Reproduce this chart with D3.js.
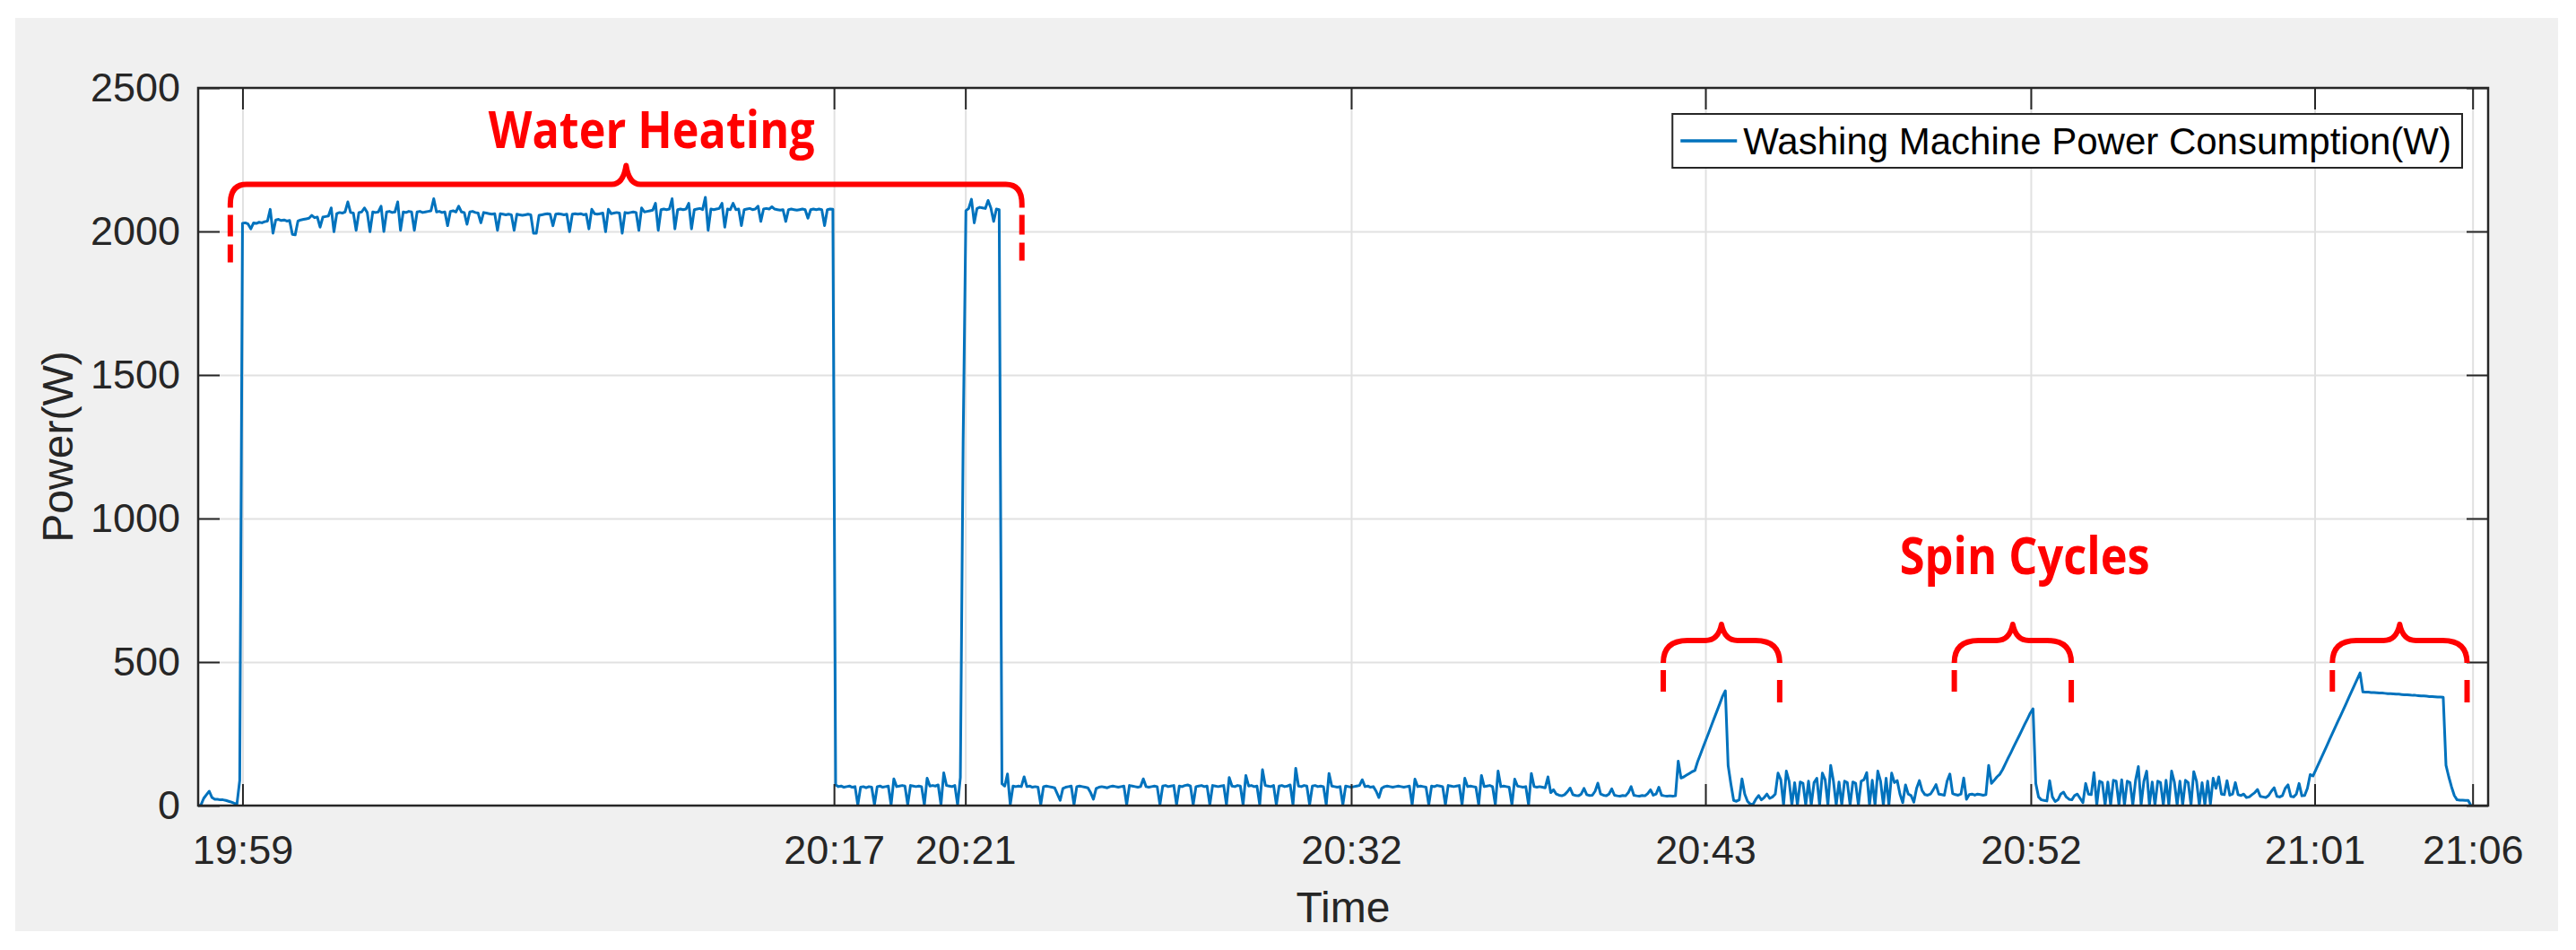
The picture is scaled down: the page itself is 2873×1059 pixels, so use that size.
<!DOCTYPE html>
<html>
<head>
<meta charset="utf-8">
<script src="https://cdn.jsdelivr.net/npm/d3@7"></script>
<style>
  body { margin: 0; background: #fff; }
  svg { display: block; font-family: "Liberation Sans", Arial, Helvetica, sans-serif; }
</style>
</head>
<body>
<svg id="chart"></svg>
<script>
// one reading every 5 s, starting at the left edge of the plot
const startTime = "19:57:40";
const stepSeconds = 5;
const timeDomain = ["19:57:40", "21:06:31"];

const idleStart = [0, 2, 25, 38, 50, 28, 22, 22, 20, 20, 18, 15, 12, 8, 6, 88];

const heatingPhase1 = [
  2028, 2030, 2026, 2009, 2030, 2028, 2032, 2030, 2034, 2036,
  2077, 1994, 2040, 2042, 2038, 2040, 2036, 2038, 1990, 1988,
  2036, 2040, 2042, 2044, 2046, 2056, 2048, 2050, 2015, 2050,
  2052, 2054, 2082, 1999, 2062, 2066, 2064, 2068, 2103, 2066,
  2064, 2004, 2066, 2068, 2082, 2066, 1999, 2068, 2066, 2068,
  2088, 2000, 2068, 2070, 2066, 2068, 2103, 2004, 2068, 2066,
  2070, 2068, 2004, 2068, 2070, 2066, 2068, 2070, 2072, 2114,
  2068, 2070, 2066, 2068, 2020, 2070, 2072, 2068, 2088, 2068,
  2066, 2025, 2068, 2070, 2066, 2064, 2030, 2066, 2064, 2062,
  2060, 2062, 2004, 2062, 2060, 2058, 2060, 2058, 2004, 2060,
  2058, 2056, 2058, 2060, 2058, 1994, 1994, 2056, 2058, 2060,
  2062, 2060, 2020, 2060, 2062, 2060, 2058, 2060, 1999, 2060,
  2062, 2060, 2062, 2058, 2060, 2009, 2077, 2062, 2060, 2062,
  2064, 1999, 2077, 2062, 2064, 2066, 2064, 1994, 2066, 2064,
  2066, 2068, 2066, 2004, 2082, 2068, 2070, 2072, 2074, 2098,
  2004, 2076, 2078, 2076, 2078, 2114, 2009, 2076, 2078, 2076,
  2078, 2098, 2009, 2076, 2078, 2080, 2076, 2119, 2004, 2078,
  2076, 2078, 2080, 2098, 2015, 2078, 2076, 2098, 2076, 2078,
  2020, 2076, 2078, 2080, 2076, 2078, 2088, 2035, 2078, 2080,
  2078, 2086, 2078, 2076, 2074, 2076, 2035, 2076, 2078, 2076,
  2074, 2076, 2078, 2076, 2046, 2076, 2078, 2076, 2078, 2076,
  2020, 2076, 2078, 2077
];

const pausePhase = [
  72, 66, 68, 64, 66, 68, 64, 66, 2, 64,
  66, 62, 66, 64, 3, 66, 68, 64, 66, 68,
  2, 93, 66, 68, 70, 68, 3, 70, 68, 66,
  68, 66, 2, 95, 68, 70, 68, 72, 3, 114,
  70, 68, 66, 70, 2, 98
];

const heatingPhase2 = [1270, 2072, 2080, 2112, 2030, 2080, 2084, 2082, 2080, 2108, 2082, 2035, 2078, 2076];

const washPhase = [
  76, 68, 110, 3, 68, 66, 68, 66, 100, 66,
  68, 64, 66, 64, 3, 66, 68, 66, 64, 62,
  40, 18, 60, 64, 66, 68, 3, 66, 68, 66,
  64, 62, 45, 22, 60, 64, 66, 64, 62, 66,
  68, 66, 64, 66, 68, 3, 70, 68, 66, 64,
  66, 93, 66, 64, 66, 68, 66, 3, 68, 70,
  66, 68, 70, 3, 68, 66, 70, 72, 68, 3,
  66, 68, 70, 66, 68, 3, 70, 68, 66, 68,
  70, 3, 98, 68, 66, 70, 68, 3, 105, 68,
  70, 66, 68, 3, 125, 70, 68, 66, 70, 3,
  68, 70, 66, 68, 72, 3, 130, 68, 66, 70,
  68, 3, 68, 70, 66, 68, 66, 3, 112, 68,
  66, 64, 66, 3, 68, 66, 64, 66, 68, 70,
  90, 66, 68, 64, 66, 50, 28, 60, 66, 68,
  66, 64, 66, 68, 66, 64, 66, 68, 3, 92,
  66, 68, 66, 64, 3, 68, 66, 70, 68, 66,
  3, 70, 68, 66, 68, 70, 3, 95, 66, 68,
  66, 64, 3, 105, 66, 68, 70, 66, 3, 120,
  66, 68, 66, 64, 3, 92, 68, 66, 64, 66,
  3, 112, 66, 64, 66, 64, 62, 100, 45, 55,
  40, 36, 34, 38, 48, 61, 38, 35, 34, 40,
  60, 38, 35, 36, 50, 78, 40, 36, 34, 40,
  58, 36, 34, 33, 35, 34, 45, 66, 36, 34,
  33, 35, 34, 42, 55, 36, 40, 64, 36, 34,
  33, 34, 33, 34
];

const spinPhase1 = [155, 96, 100, 106, 112, 118, 122, 153, 178, 204, 229, 254, 280, 305, 330, 355, 381, 400, 140, 75, 18, 15];

const rinsePhase1 = [
  20, 93, 40, 15, 5, 5, 22, 35, 20, 28,
  40, 25, 30, 40, 113, 90, 2, 120, 85, 2,
  80, 2, 82, 78, 2, 85, 2, 80, 95, 2,
  113, 90, 2, 140, 85, 2, 82, 2, 85, 80,
  2, 82, 78, 2, 85, 90, 115, 2, 88, 2,
  120, 85, 2, 95, 2, 113, 80, 87, 40, 10,
  72, 40, 35, 12, 60, 87, 52, 38, 36, 40,
  55, 73, 40, 38, 36, 85, 110, 42, 38, 36,
  40, 96, 22, 38, 40, 36, 40, 38, 36, 38
];

const spinPhase2 = [140, 77, 88, 100, 109, 125, 145, 165, 184, 204, 224, 243, 263, 283, 302, 322, 337, 77, 30, 20, 18, 16];

const rinsePhase2 = [
  87, 30, 14, 20, 40, 47, 30, 22, 20, 35,
  40, 25, 10, 77, 40, 38, 115, 2, 85, 80,
  2, 82, 2, 88, 85, 2, 90, 2, 85, 80,
  2, 88, 136, 2, 85, 120, 2, 82, 2, 85,
  80, 2, 88, 2, 120, 82, 2, 85, 2, 88,
  80, 2, 118, 85, 2, 80, 2, 85, 5, 95,
  60, 100, 40, 38, 87, 36, 40, 80, 38, 35,
  40, 28, 30, 38, 45, 56, 32, 30, 28, 35,
  50, 62, 32, 30, 35, 60, 72, 32, 30, 40,
  77, 34, 35, 60
];

const spinPhase3 = [
  108, 103, 124, 145, 166, 187, 208, 230, 251, 272,
  293, 314, 335, 356, 378, 399, 420, 441, 462, 396,
  395, 395, 394, 394, 393, 392, 392, 391, 390, 390,
  389, 388, 388, 387, 386, 386, 385, 384, 384, 383,
  382, 382, 381, 380, 380, 379, 378, 378, 377, 140,
  100, 65, 35, 20, 19, 19, 18, 18, 0
];

const tickTimes = ["19:59:00", "20:16:47", "20:20:44", "20:32:20", "20:42:59", "20:52:46", "21:01:18", "21:06:03"];
const tickLabels = ["19:59", "20:17", "20:21", "20:32", "20:43", "20:52", "21:01", "21:06"];
const powerTicks = [0, 500, 1000, 1500, 2000, 2500];
const seriesName = "Washing Machine Power Consumption(W)";

// red hand-drawn annotations
const braceFrom = ["19:58:38", "20:41:43", "20:50:28", "21:01:50"];
const braceTo = ["20:22:26", "20:45:13", "20:53:59", "21:05:53"];
const braceLevel = [2164, 575, 575, 575];
const noteText = ["Water Heating", "Spin Cycles"];
const noteTime = ["20:11:18", "20:52:35"];
const noteLevel = [2290, 806];

const parseTime = d3.timeParse("%H:%M:%S");


class PowerChart {

  constructor(_config, _data) {
    this.config = {
      parentElement: _config.parentElement,
      containerWidth: _config.containerWidth || 2873,
      containerHeight: _config.containerHeight || 1059,
      margin: { top: 98, bottom: 161, right: 98, left: 221 }
    }
    this.data = _data;
    this.initVis();
  }

  initVis() {
    let vis = this;
    vis.width = vis.config.containerWidth - vis.config.margin.left - vis.config.margin.right;
    vis.height = vis.config.containerHeight - vis.config.margin.top - vis.config.margin.bottom;

    vis.svg = d3.select(vis.config.parentElement)
      .attr('width', vis.config.containerWidth)
      .attr('height', vis.config.containerHeight);

    vis.svg.append('rect')
      .attr('width', vis.config.containerWidth)
      .attr('height', vis.config.containerHeight)
      .attr('fill', '#ffffff');

    // matlab figure background
    vis.svg.append('rect')
      .attr('x', 17).attr('y', 20)
      .attr('width', vis.config.containerWidth - 37)
      .attr('height', vis.config.containerHeight - 41)
      .attr('fill', '#f0f0f0');

    vis.chart = vis.svg.append('g')
      .attr('transform', `translate(${vis.config.margin.left},${vis.config.margin.top})`);

    vis.chart.append('rect')
      .attr('width', vis.width)
      .attr('height', vis.height)
      .attr('fill', '#ffffff');

    vis.xScale = d3.scaleTime()
      .domain(timeDomain.map(parseTime))
      .range([0, vis.width]);

    vis.yScale = d3.scaleLinear()
      .domain([0, 2500])
      .range([vis.height, 0]);

    vis.tickDates = tickTimes.map(parseTime);

    vis.updateVis();
  }

  updateVis() {
    let vis = this;
    const ink = '#262626';

    // grid
    const xGrid = vis.chart.append('g')
      .call(d3.axisBottom(vis.xScale).tickValues(vis.tickDates).tickSize(vis.height).tickFormat(''));
    const yGrid = vis.chart.append('g')
      .call(d3.axisLeft(vis.yScale).tickValues(powerTicks.slice(1, -1)).tickSize(-vis.width).tickFormat(''));
    [xGrid, yGrid].forEach(g => {
      g.select('.domain').remove();
      g.selectAll('line').attr('stroke', '#e1e1e1').attr('stroke-width', 2);
    });

    vis.line = d3.line()
      .x(d => vis.xScale(d.time))
      .y(d => vis.yScale(d.watts));

    vis.chart.append('path')
      .datum(vis.data)
      .attr('fill', 'none')
      .attr('stroke', '#0072bd')
      .attr('stroke-width', 3)
      .attr('stroke-linejoin', 'round')
      .attr('d', vis.line);

    // axes with inward ticks on all four sides
    const axes = [
      { axis: d3.axisBottom(vis.xScale).tickValues(vis.tickDates).tickFormat((d, i) => tickLabels[i]).tickPadding(33), at: [0, vis.height] },
      { axis: d3.axisTop(vis.xScale).tickValues(vis.tickDates).tickFormat(''), at: [0, 0] },
      { axis: d3.axisLeft(vis.yScale).tickValues(powerTicks).tickFormat(d3.format('d')).tickPadding(20), at: [0, 0] },
      { axis: d3.axisRight(vis.yScale).tickValues(powerTicks).tickFormat(''), at: [vis.width, 0] }
    ];
    axes.forEach(a => {
      const g = vis.chart.append('g')
        .attr('transform', `translate(${a.at[0]},${a.at[1]})`)
        .attr('color', ink)
        .call(a.axis.tickSizeInner(-24).tickSizeOuter(0));
      g.select('.domain').remove();
      g.selectAll('line').attr('stroke-width', 2);
      g.selectAll('text')
        .attr('font-size', 45)
        .attr('font-family', '"Liberation Sans", Arial, Helvetica, sans-serif')
        .attr('fill', ink);
    });

    vis.chart.append('rect')
      .attr('width', vis.width)
      .attr('height', vis.height)
      .attr('fill', 'none')
      .attr('stroke', ink)
      .attr('stroke-width', 2.5);

    vis.chart.append('text')
      .attr('x', vis.width / 2)
      .attr('y', vis.height + 130)
      .attr('text-anchor', 'middle')
      .attr('font-size', 48)
      .attr('fill', ink)
      .text('Time');

    vis.svg.append('text')
      .attr('transform', `translate(81,${vis.config.margin.top + vis.height / 2}) rotate(-90)`)
      .attr('text-anchor', 'middle')
      .attr('font-size', 48)
      .attr('fill', ink)
      .text('Power(W)');

    // legend
    const legend = vis.chart.append('g');
    const legendBox = legend.append('rect')
      .attr('y', 29)
      .attr('height', 60)
      .attr('fill', '#ffffff')
      .attr('stroke', ink)
      .attr('stroke-width', 2);
    const legendText = legend.append('text')
      .attr('y', 29 + 45)
      .attr('font-size', 42)
      .attr('fill', '#000000')
      .text(seriesName);
    const textW = legendText.node().getComputedTextLength();
    const boxRight = vis.width - 29;
    const boxLeft = boxRight - (9 + 63 + 7 + textW + 12);
    legendBox.attr('x', boxLeft).attr('width', boxRight - boxLeft);
    legendText.attr('x', boxLeft + 79);
    legend.append('line')
      .attr('x1', boxLeft + 9).attr('x2', boxLeft + 72)
      .attr('y1', 29 + 30).attr('y2', 29 + 30)
      .attr('stroke', '#0072bd')
      .attr('stroke-width', 3.5);

    vis.drawNotes();
  }

  drawNotes() {
    let vis = this;
    const red = '#ff0000';
    const notes = vis.chart.append('g');

    braceFrom.forEach((from, i) => {
      const x0 = vis.xScale(parseTime(from));
      const x1 = vis.xScale(parseTime(braceTo[i]));
      const y = vis.yScale(braceLevel[i]);
      const big = i === 0;
      const rx = big ? 18 : 27, ry = big ? 22 : 25, tail = big ? 26 : 25;
      const w = big ? 16 : 18, rise = big ? 21 : 18;
      const xc = (x0 + x1) / 2;

      notes.append('path')
        .attr('d', `M${x0},${y + tail} L${x0},${y + ry} Q${x0},${y} ${x0 + rx},${y}
          L${xc - w},${y} Q${xc - w * 0.2},${y} ${xc},${y - rise}
          Q${xc + w * 0.2},${y} ${xc + w},${y}
          L${x1 - rx},${y} Q${x1},${y} ${x1},${y + ry} L${x1},${y + tail}`)
        .attr('fill', 'none')
        .attr('stroke', red)
        .attr('stroke-width', 6)
        .attr('stroke-linejoin', 'round');

      const leftDash = big ? [[34, 58], [67, 87]] : [[33, 57]];
      const rightDash = big ? [[34, 56], [65, 85]] : [[44, 69]];
      [[x0, leftDash], [x1, rightDash]].forEach(([x, dashes]) => {
        dashes.forEach(dd => {
          notes.append('line')
            .attr('x1', x).attr('x2', x)
            .attr('y1', y + dd[0]).attr('y2', y + dd[1])
            .attr('stroke', red)
            .attr('stroke-width', 6);
        });
      });
    });

    const noteWidth = [364, 279];
    noteText.forEach((t, i) => {
      notes.append('text')
        .attr('x', vis.xScale(parseTime(noteTime[i])) - noteWidth[i] / 2)
        .attr('y', vis.yScale(noteLevel[i]))
        .attr('font-family', '"Open Sans", "Noto Sans", sans-serif')
        .attr('font-weight', 'bold')
        .attr('font-size', 57)
        .attr('fill', red)
        .attr('textLength', noteWidth[i])
        .attr('lengthAdjust', 'spacingAndGlyphs')
        .text(t);
    });
  }
}

const powerSeries = [].concat(idleStart, heatingPhase1, pausePhase, heatingPhase2, washPhase,
  spinPhase1, rinsePhase1, spinPhase2, rinsePhase2, spinPhase3);
const t0 = parseTime(startTime);
const powerData = powerSeries.map((w, i) => ({
  time: new Date(t0.getTime() + i * stepSeconds * 1000),
  watts: w
}));

const powerChart = new PowerChart({ parentElement: '#chart' }, powerData);
</script>
</body>
</html>
